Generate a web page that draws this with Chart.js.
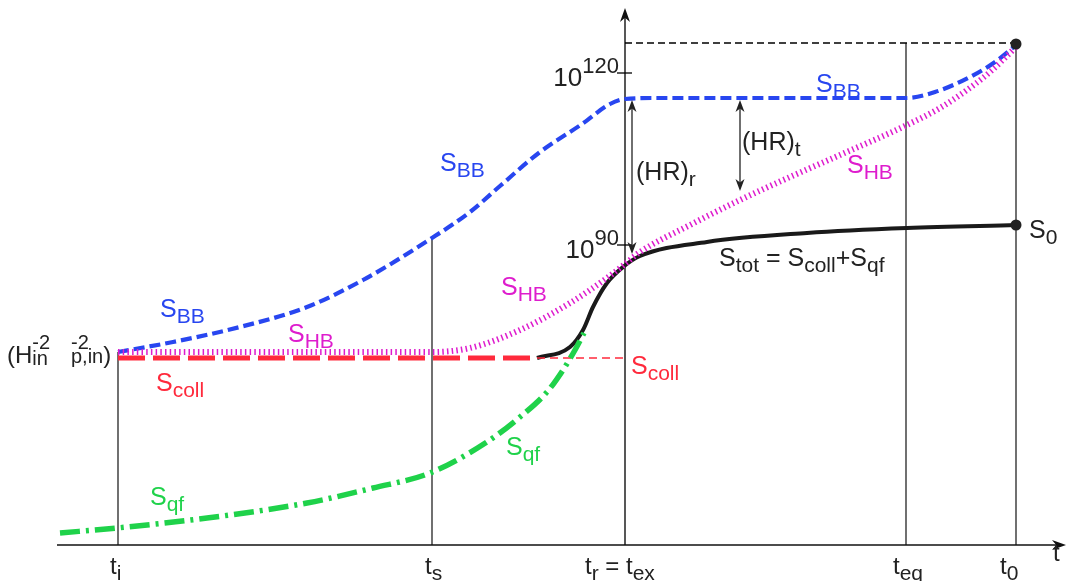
<!DOCTYPE html>
<html><head><meta charset="utf-8">
<script src="https://cdn.jsdelivr.net/npm/chart.js@4"></script>
<style>html,body{margin:0;padding:0;background:#fff;overflow:hidden}#c{display:block}</style>
</head><body>
<canvas id="c" width="1070" height="581"></canvas>
<script>
// ---- schematic data (t along x, log S along y; arbitrary units) ----
const bbT = [58,113,180,247,303,372,410,440,480,522,550,565,600,846,875,910,935,956];
const bbS = [193,203,218,238,265,307,333,359,393,421,441,446,447,447,453,468,483,500];

const hbT = [58,372,410,460,510,547,565,580,630,680,730,780,847,880,907,930,956];
const hbS = [193,193,197,215,242,267,281,293,320,345,368,390,420,437,455,473,498];

const collT = [58,477];
const collS = [187,187];
const collThinT = [477,565];
const collThinS = [187,187];

const qfT = [0,57,147,247,313,370,427,460,487,503,515,524];
const qfS = [12,17,27,42,57,72,103,128,153,175,195,212];

const totT = [477,510,523,533,547,563,580,647,747,847,956];
const totS = [187,198,215,238,262,278,289,303,312,317,320];

// guide lines / ticks
const tTickPos = [58,372,565,846,956];
const tTickTop = [193,307,540,502,500];
const yTickPos = [472,300];
const yTickExp = ['120','90'];
const topLevel = 502;
const s0 = {t:956, s:320};
const sEnd = {t:956, s:501};
const hrR = {t:572, from:446, to:290};
const hrT = {t:680, from:446, to:353};

const BLUE='#2846f0', MAG='#de1ccd', RED='#ff2a3c', GREEN='#1fd24a', BLK='#222';

function ds(t,s,color,w,dash){
  return {data:t.map((v,i)=>({x:v,y:s[i]})),borderColor:color,borderWidth:w,borderDash:dash||[],
    showLine:true,pointRadius:0,fill:false,cubicInterpolationMode:'monotone',clip:false,borderCapStyle:'butt'};
}

function rich(ctx,x,y,parts,color){
  ctx.fillStyle=color; ctx.textBaseline='alphabetic'; ctx.textAlign='left';
  let cx=x;
  for(const p of parts){
    const sz=p.z||(p.s==='n'?25:21);
    ctx.font=sz+'px "Liberation Sans", Arial, sans-serif';
    let dy=0; if(p.s==='sub') dy=p.d!==undefined?p.d:6; if(p.s==='sup') dy=p.d!==undefined?p.d:-12;
    if(p.dx) cx+=p.dx;
    ctx.fillText(p.t,cx,y+dy);
    if(!p.nx) cx+=ctx.measureText(p.t).width;
  }
}
function arrowHead(ctx,x,y,ang,len,hw){
  ctx.save();ctx.translate(x,y);ctx.rotate(ang);
  ctx.beginPath();ctx.moveTo(0,0);ctx.lineTo(-len,-hw);ctx.lineTo(-len*0.7,0);ctx.lineTo(-len,hw);ctx.closePath();
  ctx.fill();ctx.restore();
}

const guides={
  id:'guides',
  beforeDatasetsDraw(chart){
    const ctx=chart.ctx, X=v=>chart.scales.x.getPixelForValue(v), Y=v=>chart.scales.y.getPixelForValue(v);
    ctx.save();
    ctx.strokeStyle='#111'; ctx.fillStyle='#111'; ctx.lineWidth=1.2;
    tTickPos.forEach((t,i)=>{ if(i===2) return; ctx.beginPath();ctx.moveTo(X(t),Y(0));ctx.lineTo(X(t),Y(tTickTop[i]));ctx.stroke();});
    ctx.lineWidth=1.4;
    ctx.beginPath();ctx.moveTo(X(565),Y(0));ctx.lineTo(X(565),Y(537)+6);ctx.stroke();
    arrowHead(ctx,X(565),Y(537),-Math.PI/2,14,5);
    ctx.beginPath();ctx.moveTo(X(-3),Y(0));ctx.lineTo(X(1006)-6,Y(0));ctx.stroke();
    arrowHead(ctx,X(1006),Y(0),0,14,5);
    ctx.strokeStyle='#000'; ctx.lineWidth=1.3; ctx.setLineDash([7,4]);
    ctx.beginPath();ctx.moveTo(X(565),Y(topLevel));ctx.lineTo(X(956),Y(topLevel));ctx.stroke();
    ctx.setLineDash([]);
    ctx.lineWidth=1.3;
    yTickPos.forEach(v=>{ctx.beginPath();ctx.moveTo(X(557),Y(v));ctx.lineTo(X(572),Y(v));ctx.stroke();});
    ctx.restore();
  },
  afterDatasetsDraw(chart){
    const ctx=chart.ctx, X=v=>chart.scales.x.getPixelForValue(v), Y=v=>chart.scales.y.getPixelForValue(v);
    ctx.save();
    ctx.fillStyle=BLK; ctx.strokeStyle=BLK;
    [s0,sEnd].forEach(p=>{ctx.beginPath();ctx.arc(X(p.t),Y(p.s),5.5,0,Math.PI*2);ctx.fill();});
    ctx.lineWidth=1.3;
    [hrR,hrT].forEach(a=>{
      ctx.beginPath();ctx.moveTo(X(a.t),Y(a.from)+4);ctx.lineTo(X(a.t),Y(a.to)-4);ctx.stroke();
      arrowHead(ctx,X(a.t),Y(a.from)+1,-Math.PI/2,12,4.5);
      arrowHead(ctx,X(a.t),Y(a.to)-1,Math.PI/2,12,4.5);
    });
    yTickPos.forEach((v,i)=>{
      const y=Y(v)+13;
      ctx.font='26px "Liberation Sans", Arial, sans-serif';
      const w1=ctx.measureText('10').width;
      ctx.font='22px "Liberation Sans", Arial, sans-serif';
      const w2=ctx.measureText(yTickExp[i]).width;
      rich(ctx,X(559)-w1-w2,y,[{t:'10',s:'n',z:26},{t:yTickExp[i],s:'sup',z:22,d:-13}],BLK);
    });
    const tl=[[[{t:'t',s:'n',z:24},{t:'i',s:'sub'}],110],
              [[{t:'t',s:'n',z:24},{t:'s',s:'sub'}],425],
              [[{t:'t',s:'n',z:24},{t:'r',s:'sub'},{t:' = t',s:'n',z:24},{t:'ex',s:'sub'}],585],
              [[{t:'t',s:'n',z:24},{t:'eq',s:'sub'}],893],
              [[{t:'t',s:'n',z:24},{t:'0',s:'sub'}],1000]];
    tl.forEach(l=>rich(ctx,l[1],574,l[0],BLK));
    rich(ctx,1053,561,[{t:'t',s:'n',z:24}],BLK);
    const S=(x,y,sub,c)=>rich(ctx,x,y,[{t:'S',s:'n'},{t:sub,s:'sub'}],c);
    S(816,92,'BB',BLUE); S(440,171,'BB',BLUE); S(160,317,'BB',BLUE);
    S(288,342,'HB',MAG); S(501,295,'HB',MAG); S(847,173,'HB',MAG);
    S(156,391,'coll',RED); S(631,374,'coll',RED);
    S(150,505,'qf',GREEN); S(506,455,'qf',GREEN);
    S(1029,238,'0',BLK);
    rich(ctx,719,266,[{t:'S',s:'n'},{t:'tot',s:'sub'},{t:' = S',s:'n'},{t:'coll',s:'sub'},{t:'+S',s:'n'},{t:'qf',s:'sub'}],BLK);
    rich(ctx,636,180,[{t:'(HR)',s:'n'},{t:'r',s:'sub'}],BLK);
    rich(ctx,742,150,[{t:'(HR)',s:'n'},{t:'t',s:'sub'}],BLK);
    rich(ctx,7,363,[{t:'(H',s:'n',z:24},{t:'-2',s:'sup',z:20,d:-14,nx:true},{t:'in',s:'sub',z:20,d:2}],BLK);
    rich(ctx,71,363,[{t:'-2',s:'sup',z:20,d:-14,nx:true},{t:'p,in',s:'sub',z:20,d:0},{t:')',s:'n',z:24}],BLK);
    ctx.restore();
  }
};

new Chart(document.getElementById('c'),{
  type:'scatter',
  data:{datasets:[
    ds(qfT,qfS,GREEN,5.5,[20,6,3,6]),
    ds(collT,collS,RED,5,[27,8]),
    ds(collThinT,collThinS,RED,1.3,[8,5]),
    ds(hbT,hbS,MAG,6,[1.5,3.2]),
    ds(bbT,bbS,BLUE,4.2,[11,5]),
    ds(totT,totS,'#1a1a1a',4)
  ]},
  options:{
    responsive:false,animation:false,devicePixelRatio:1,
    layout:{padding:{left:60,right:10,top:5,bottom:36}},
    plugins:{legend:{display:false},tooltip:{enabled:false}},
    events:[],
    scales:{x:{type:'linear',min:0,max:1000,display:false},y:{type:'linear',min:0,max:540,display:false}}
  },
  plugins:[guides]
});
</script>
</body></html>
